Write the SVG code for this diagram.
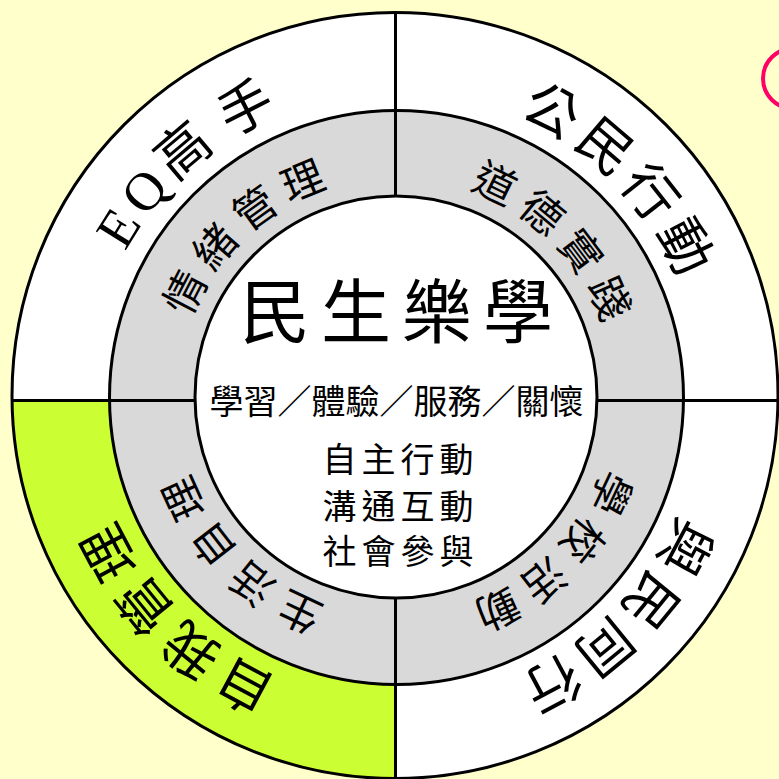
<svg xmlns="http://www.w3.org/2000/svg" xmlns:xlink="http://www.w3.org/1999/xlink" width="779" height="779" viewBox="0 0 779 779">
<style>
.ring{stroke:#000;stroke-width:3}
.cjk{font-family:"Noto Sans CJK TC","Noto Sans CJK SC",sans-serif;fill:#000}
.outer{font-size:54px;letter-spacing:6.5px}
.gray{font-size:42px;letter-spacing:9.5px}
.line{stroke:#000;stroke-width:3;fill:none}
</style>
<defs>
<path id="pOuter" d="M396,90 A307,307 0 0 1 396,704 A307,307 0 0 1 396,90"/>
<path id="pGray" d="M396,177 A220,220 0 0 1 396,617 A220,220 0 0 1 396,177"/>
</defs>
<rect width="779" height="779" fill="#FFFFCC"/>
<g id="wheel">
<circle cx="395" cy="395.5" r="383" fill="#FFFFFF"/>
<path d="M395.5,400.5 L12,400.5 A383,383 0 0 0 395.5,778.5 Z" fill="#CCFF33"/>
<circle cx="396.5" cy="397.5" r="287" fill="#D9D9D9" class="ring"/>
</g>
<g id="connectors">
<line class="line" x1="395.5" y1="12" x2="395.5" y2="779"/>
<line class="line" x1="12" y1="400.5" x2="778" y2="400.5"/>
</g>
<circle cx="395" cy="395.5" r="383" fill="none" class="ring"/>
<g id="node-center">
<circle cx="396" cy="397" r="201" fill="#FFFFFF" class="ring"/>
<text class="cjk" x="402" y="338" font-size="70" letter-spacing="11" text-anchor="middle">民生樂學</text>
<text class="cjk" x="396.5" y="414" font-size="34" text-anchor="middle">學習／體驗／服務／關懷</text>
<text class="cjk" x="400.5" y="472" font-size="34" letter-spacing="5" text-anchor="middle">自主行動</text>
<text class="cjk" x="400.5" y="519" font-size="34" letter-spacing="5" text-anchor="middle">溝通互動</text>
<text class="cjk" x="400.5" y="564" font-size="34" letter-spacing="5" text-anchor="middle">社會參與</text>
</g>
<g id="node-eq">
<text class="outer" font-family="'Liberation Serif','Noto Sans CJK TC',serif" letter-spacing="5" text-anchor="middle"><textPath xlink:href="#pOuter" href="#pOuter" startOffset="88.47%">EQ高<tspan dx="11">手</tspan></textPath></text>
</g>
<g id="node-emotion">
<text class="cjk gray" text-anchor="middle"><textPath xlink:href="#pGray" href="#pGray" startOffset="88.23%">情緒管理</textPath></text>
</g>
<g id="node-civic">
<text class="cjk outer" text-anchor="middle"><textPath xlink:href="#pOuter" href="#pOuter" startOffset="12.81%">公民行動</textPath></text>
</g>
<g id="node-moral">
<text class="cjk gray" text-anchor="middle"><textPath xlink:href="#pGray" href="#pGray" startOffset="12.84%">道德實踐</textPath></text>
</g>
<g id="node-people">
<text class="cjk outer" text-anchor="middle"><textPath xlink:href="#pOuter" href="#pOuter" startOffset="37.5%">與民同行</textPath></text>
</g>
<g id="node-school">
<text class="cjk gray" text-anchor="middle"><textPath xlink:href="#pGray" href="#pGray" startOffset="37.62%">學校活動</textPath></text>
</g>
<g id="node-self">
<text class="cjk outer" text-anchor="middle"><textPath xlink:href="#pOuter" href="#pOuter" startOffset="62.53%">自我管理</textPath></text>
</g>
<g id="node-life">
<text class="cjk gray" text-anchor="middle"><textPath xlink:href="#pGray" href="#pGray" startOffset="62.62%">生活自理</textPath></text>
</g>
<circle id="mark" cx="793" cy="78.5" r="30" fill="none" stroke="#FF0066" stroke-width="4"/>
</svg>
